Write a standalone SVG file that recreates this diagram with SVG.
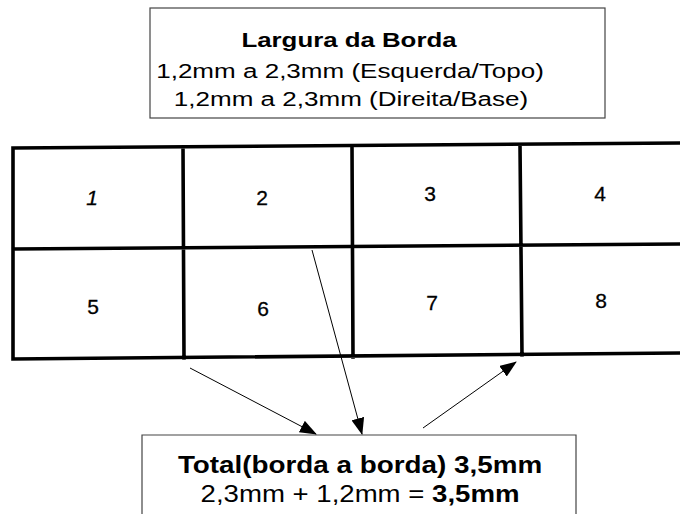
<svg xmlns="http://www.w3.org/2000/svg" width="680" height="514" viewBox="0 0 680 514">
<style>
.box{fill:#fff;stroke:#444;stroke-width:1.2}
.grid{stroke:#000;stroke-width:3.6;fill:none;stroke-linecap:square}
.t{font-family:"Liberation Sans",Arial,sans-serif;fill:#000;text-anchor:middle}
.b{font-weight:bold}
.d{font-family:"Liberation Sans",Arial,sans-serif;font-size:21px;fill:#000;stroke:#000;stroke-width:0.3;text-anchor:middle}
.c{stroke:#000;stroke-width:1;fill:none}
</style>
<defs>
<marker id="ah" markerUnits="userSpaceOnUse" markerWidth="17" markerHeight="13" refX="16" refY="6.5" orient="auto">
<path d="M0,0 L17,6.5 L0,13 Z" fill="#000"/>
</marker>
</defs>
<rect width="680" height="514" fill="#fff"/>
<g id="top-box">
<rect class="box" x="150" y="8" width="455" height="110"/>
<text class="t b" font-size="21" transform="translate(349,47) scale(1.23,1)">Largura da Borda</text>
<text class="t" font-size="21" transform="translate(350,78) scale(1.24,1)">1,2mm a 2,3mm (Esquerda/Topo)</text>
<text class="t" font-size="21" transform="translate(351,106) scale(1.24,1)">1,2mm a 2,3mm (Direita/Base)</text>
</g>
<g id="grid">
<path class="grid" d="M13,148 L682,143 M13,249 L682,244 M13,359 L682,353 M13,148 L13,359 M183,147 L184,358 M352,146 L353,357 M520,145 L522,355"/>
</g>
<g id="cell-1"><text class="d" font-style="italic" x="92" y="205">1</text></g>
<g id="cell-2"><text class="d" x="262" y="205">2</text></g>
<g id="cell-3"><text class="d" x="430" y="201">3</text></g>
<g id="cell-4"><text class="d" x="600" y="201">4</text></g>
<g id="cell-5"><text class="d" x="93" y="314">5</text></g>
<g id="cell-6"><text class="d" x="263" y="316">6</text></g>
<g id="cell-7"><text class="d" x="432" y="310">7</text></g>
<g id="cell-8"><text class="d" x="601" y="308">8</text></g>
<g id="bottom-box">
<path class="box" d="M142,516 L142,435 L576,435 L576,516"/>
<text class="t b" font-size="23" transform="translate(360,473) scale(1.21,1)">Total(borda a borda) 3,5mm</text>
<text class="t" font-size="23" transform="translate(360,502) scale(1.2,1)">2,3mm + 1,2mm = <tspan class="b">3,5mm</tspan></text>
</g>
<g id="connectors">
<line class="c" x1="190" y1="368" x2="316" y2="434" marker-end="url(#ah)"/>
<line class="c" x1="312" y1="250" x2="362" y2="434" marker-end="url(#ah)"/>
<line class="c" x1="423" y1="428" x2="516" y2="362" marker-end="url(#ah)"/>
</g>
</svg>
